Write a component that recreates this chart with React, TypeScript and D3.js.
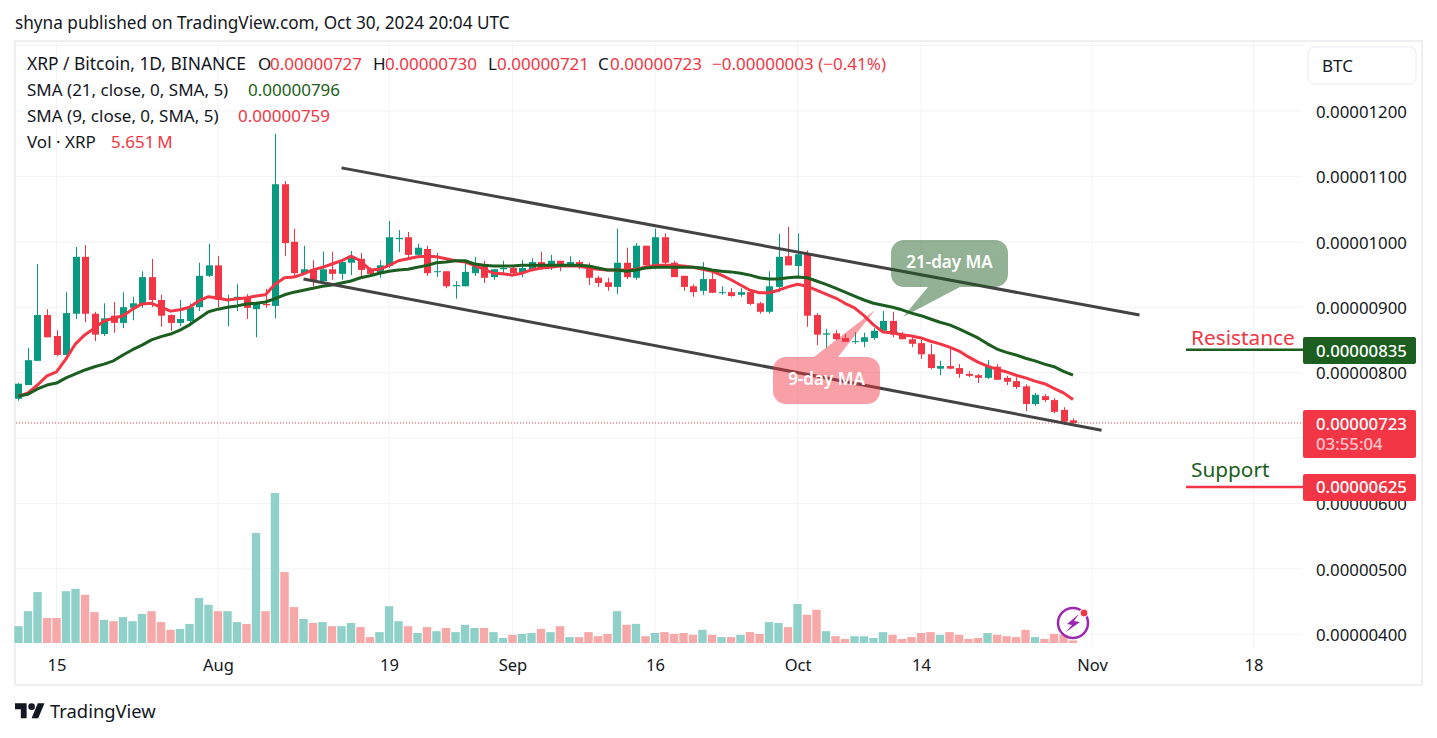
import React, { useEffect, useRef } from 'react';
import * as d3 from 'd3';

// prices in satoshi (1e-8 BTC), one entry per daily candle from 2024-07-11
const opens = [760,781,818,888,856,827,890,977,890,859,887,876,899,905,946,911,888,876,879,900,948,964,911,911,916,897,905,902,1088,1000,952,958,940,958,951,968,974,958,951,963,1004,1007,980,989,954,955,932,932,952,964,946,958,960,952,958,969,960,971,963,969,964,945,938,931,968,945,994,963,1007,968,948,932,925,943,922,923,919,923,906,893,931,978,963,981,888,858,860,853,847,847,853,864,879,859,851,845,828,806,810,807,798,796,792,809,792,787,779,752,764,758,743,727];
const highs = [784,838,966,897,865,923,992,995,893,906,908,923,916,955,974,919,889,911,906,968,997,978,919,935,920,908,928,1165,1093,1020,994,972,985,985,974,986,983,961,972,1032,1018,1015,997,994,983,955,940,969,977,971,958,971,964,972,975,985,980,971,978,972,968,948,945,1020,991,998,994,1020,1013,971,948,935,969,957,932,929,929,926,908,955,1012,1023,1013,987,891,867,865,859,862,861,868,894,893,862,854,850,844,818,838,813,802,798,819,813,795,793,782,769,767,761,747,730];
const lows = [757,781,818,854,825,827,882,877,848,856,861,868,880,899,900,870,864,871,871,894,946,900,871,894,882,854,899,883,978,945,952,932,940,942,942,949,946,949,945,960,984,975,978,948,946,929,913,932,948,937,942,952,948,946,955,957,957,955,963,958,934,931,925,920,943,942,963,958,960,946,925,916,919,922,919,916,916,903,890,890,923,964,945,870,842,838,850,847,844,839,850,864,854,851,839,821,805,796,805,792,793,784,790,789,781,775,741,749,755,738,720,721];
const closes = [783,819,888,854,827,891,977,890,858,883,876,900,906,946,911,887,876,882,900,948,964,911,913,916,899,908,903,1088,998,952,958,940,958,951,969,977,957,951,964,1007,1006,980,991,952,955,932,934,954,964,945,958,960,952,960,969,960,971,963,969,963,945,937,931,968,946,994,964,1007,968,946,931,923,943,922,923,917,923,905,893,932,977,964,981,887,858,860,851,847,848,854,864,879,858,851,844,828,807,810,806,798,795,792,809,789,786,778,752,766,758,740,725,723];
// volume in millions of XRP
const volumes = [37,70,112,55,55,114,119,106,68,51,48,57,48,64,70,46,29,31,42,99,84,70,70,46,42,242,70,330,156,79,53,44,46,37,37,44,35,13,24,81,48,37,22,35,26,33,24,40,33,33,24,11,18,20,22,31,24,37,13,13,24,15,20,70,40,42,15,22,24,20,22,18,29,18,13,13,18,24,20,46,44,35,86,62,73,26,15,9,15,15,11,24,18,9,13,22,24,18,24,18,9,11,22,18,15,13,29,13,9,20,18,5.651];
const sma21 = [764,767,775,781,784,792,798,804,809,813,818,827,835,842,850,855,859,865,873,883,893,897,900,902,905,906,908,913,919,923,926,929,932,934,937,940,945,948,952,955,957,958,961,964,968,969,971,971,966,964,963,963,963,964,964,964,964,964,964,964,963,960,957,957,955,957,960,961,961,961,961,961,960,957,955,954,952,949,945,943,943,945,946,945,940,935,929,923,917,911,906,903,900,896,891,887,882,877,873,867,860,853,844,836,831,827,822,818,813,809,802,796];
const sma9 = [764,769,781,795,801,821,844,858,868,879,883,887,897,905,906,900,894,896,900,910,916,914,911,913,914,917,919,935,945,946,951,957,961,966,971,978,971,957,958,964,971,974,977,978,977,974,971,969,964,958,952,951,949,952,957,960,961,963,963,963,960,958,957,957,957,958,961,964,964,964,963,961,958,955,949,942,934,926,922,922,926,931,935,932,926,920,914,906,899,887,873,862,861,858,856,853,848,844,839,833,824,816,810,805,801,796,792,787,783,776,769,759];

// the 700 label sits behind the last-price tag in the reference, so only the gridline is kept
const priceTicks = [400, 500, 600, 800, 900, 1000, 1100, 1200];
const gridPrices = [...priceTicks, 700, 1300];
const timeTicks = ['2024-07-15', '2024-08-01', '2024-08-19', '2024-09-01', '2024-09-16', '2024-10-01', '2024-10-14', '2024-11-01', '2024-11-18'];
const timeLabels = ['15', 'Aug', '19', 'Sep', '16', 'Oct', '14', 'Nov', '18'];
const upperChannel: [string, number][] = [['2024-08-14', 1113], ['2024-11-06', 888]];
const lowerChannel: [string, number][] = [['2024-08-10', 943], ['2024-11-02', 712]];
const resistance = 835;
const support = 625;
const lastPrice = 723;

const UP = '#089981';
const DOWN = '#f23645';
const DARK_GREEN = '#1b5e20';
const TEXT = '#131722';
const FONT = '"Noto Sans", sans-serif';

const fmt = (v: number) => (v / 1e8).toFixed(8);

const App: React.FC = () => {
  const svgRef = useRef<SVGSVGElement | null>(null);

  useEffect(() => {
    const svg = d3.select(svgRef.current);
    svg.selectAll('*').remove();

    const days = d3.utcDay.range(new Date(Date.UTC(2024, 6, 11)), new Date(Date.UTC(2024, 9, 31)));
    const x = d3.scaleUtc().domain([new Date(Date.UTC(2024, 6, 15)), new Date(Date.UTC(2024, 10, 1))]).range([56.5, 1092]);
    const y = d3.scaleLinear().domain([400, 1200]).range([634.2, 111]);
    const yVol = d3.scaleLinear().domain([0, 330]).range([643, 493]);
    const tickDates = timeTicks.map((d) => new Date(d));

    // frame
    svg.append('rect').attr('x', 15).attr('y', 41).attr('width', 1407).attr('height', 644)
      .attr('fill', '#fff').attr('stroke', '#eeeef3').attr('stroke-width', 2);

    // grid
    const grid = svg.append('g').attr('stroke', '#f1f3f6').attr('stroke-width', 1);
    grid.selectAll('line.h').data(gridPrices).join('line').attr('class', 'h')
      .attr('x1', 16).attr('x2', 1302).attr('y1', (d) => y(d)).attr('y2', (d) => y(d));
    grid.selectAll('line.v').data(tickDates).join('line').attr('class', 'v')
      .attr('x1', (d) => x(d)).attr('x2', (d) => x(d)).attr('y1', 42).attr('y2', 648);

    // volume
    svg.append('g').selectAll('rect').data(days).join('rect')
      .attr('x', (d) => x(d) - 4.2).attr('width', 8.4)
      .attr('y', (_, i) => yVol(volumes[i]))
      .attr('height', (_, i) => yVol(0) - yVol(volumes[i]))
      .attr('fill', (_, i) => (closes[i] >= opens[i] ? '#8fd1c8' : '#f7a9a9'));

    // candles
    const candles = svg.append('g');
    const colour = (i: number) => (closes[i] >= opens[i] ? UP : DOWN);
    candles.selectAll('line').data(days).join('line')
      .attr('x1', (d) => Math.round(x(d)) + 0.5).attr('x2', (d) => Math.round(x(d)) + 0.5)
      .attr('y1', (_, i) => y(highs[i])).attr('y2', (_, i) => y(lows[i]))
      .attr('stroke', (_, i) => colour(i));
    candles.selectAll('rect').data(days).join('rect')
      .attr('x', (d) => Math.round(x(d)) - 3).attr('width', 7)
      .attr('y', (_, i) => y(Math.max(opens[i], closes[i])))
      .attr('height', (_, i) => Math.max(1, Math.abs(y(opens[i]) - y(closes[i]))))
      .attr('fill', (_, i) => colour(i));

    // moving averages
    const line = d3.line<number>().x((_, i) => x(days[i])).y((d) => y(d));
    svg.append('path').attr('d', line(sma9)).attr('fill', 'none').attr('stroke', DOWN).attr('stroke-width', 3).attr('stroke-linejoin', 'round');
    svg.append('path').attr('d', line(sma21)).attr('fill', 'none').attr('stroke', DARK_GREEN).attr('stroke-width', 3).attr('stroke-linejoin', 'round');

    // last price
    svg.append('line').attr('x1', 16).attr('x2', 1302).attr('y1', y(lastPrice)).attr('y2', y(lastPrice))
      .attr('stroke', DOWN).attr('stroke-dasharray', '1 2');

    // channel
    [upperChannel, lowerChannel].forEach((c) => {
      svg.append('line')
        .attr('x1', x(new Date(c[0][0]))).attr('y1', y(c[0][1]))
        .attr('x2', x(new Date(c[1][0]))).attr('y2', y(c[1][1]))
        .attr('stroke', '#434343').attr('stroke-width', 3);
    });

    // callouts
    const bubble = (bx: number, by: number, w: number, tail: string, fill: string, label: string) => {
      const g = svg.append('g').attr('fill', fill).attr('opacity', 0.47);
      g.append('rect').attr('x', bx).attr('y', by).attr('width', w).attr('height', 47).attr('rx', 13);
      g.append('polygon').attr('points', tail);
      svg.append('text').attr('x', bx + w / 2).attr('y', by + 28).attr('text-anchor', 'middle')
        .attr('font-family', FONT).attr('font-size', 17).attr('font-weight', 600).attr('fill', '#fff').text(label);
    };
    bubble(891, 240, 117, '928,287 960,287 903,317', DARK_GREEN, '21-day MA');
    bubble(773, 357, 107, '814,357 838,357 875,310', DOWN, '9-day MA');

    // resistance / support marks
    svg.append('line').attr('x1', 1186).attr('x2', 1303).attr('y1', y(resistance)).attr('y2', y(resistance)).attr('stroke', DARK_GREEN).attr('stroke-width', 2.5);
    svg.append('line').attr('x1', 1186).attr('x2', 1303).attr('y1', y(support)).attr('y2', y(support)).attr('stroke', DOWN).attr('stroke-width', 2.5);
    svg.append('text').attr('x', 1191).attr('y', 345).attr('font-family', FONT).attr('font-size', 20.8).attr('fill', DOWN).text('Resistance');
    svg.append('text').attr('x', 1191).attr('y', 477).attr('font-family', FONT).attr('font-size', 20.8).attr('fill', DARK_GREEN).text('Support');

    // axes
    const priceAxis = d3.axisRight(y).tickValues(priceTicks).tickSize(0).tickPadding(0).tickFormat((d) => fmt(Number(d)));
    const gy = svg.append('g').attr('transform', 'translate(1316,1)').call(priceAxis);
    gy.select('.domain').remove();
    gy.selectAll('text').attr('font-family', FONT).attr('font-size', 16.8).attr('fill', TEXT);

    const timeAxis = d3.axisBottom(x).tickValues(tickDates).tickSize(0).tickPadding(0)
      .tickFormat((_, i) => timeLabels[i]);
    const gx = svg.append('g').attr('transform', 'translate(0,659)').call(timeAxis);
    gx.select('.domain').remove();
    gx.selectAll('text').attr('font-family', FONT).attr('font-size', 16.5).attr('fill', TEXT);

    // price tags
    const tag = (ty: number, h: number, fill: string) =>
      svg.append('rect').attr('x', 1303).attr('y', ty).attr('width', 113).attr('height', h).attr('rx', 2).attr('fill', fill);
    const tagText = (cy: number, txt: string, fill = '#fff') =>
      svg.append('text').attr('x', 1316).attr('y', cy).attr('dy', '0.35em').attr('font-family', FONT).attr('font-size', 16.8)
        .attr('font-weight', 500).attr('fill', fill).text(txt);
    tag(337, 27, DARK_GREEN);
    tagText(y(resistance) + 1, fmt(resistance));
    tag(410, 48, DOWN);
    tagText(y(lastPrice) + 1, fmt(lastPrice));
    tagText(444, '03:55:04', '#fcc4c9');
    tag(474, 27, DOWN);
    tagText(y(support), fmt(support));

    // BTC button
    svg.append('rect').attr('x', 1308).attr('y', 47).attr('width', 108).attr('height', 37).attr('rx', 6)
      .attr('fill', '#fff').attr('stroke', '#e9ebf0');
    svg.append('text').attr('x', 1322).attr('y', 66).attr('dy', '0.35em').attr('font-family', FONT).attr('font-size', 17).attr('fill', TEXT).text('BTC');

    // header + legend
    const label = (tx: number, ty: number, txt: string, fill = TEXT, size = 17) =>
      svg.append('text').attr('x', tx).attr('y', ty).attr('dy', '0.35em').attr('font-family', FONT).attr('font-size', size).attr('fill', fill).text(txt);
    label(15, 23, 'shyna published on TradingView.com, Oct 30, 2024 20:04 UTC', TEXT, 17.2);
    label(27, 64, 'XRP / Bitcoin, 1D, BINANCE', TEXT, 17.4);
    label(258, 64, 'O');
    label(270, 64, fmt(727), DOWN);
    label(373, 64, 'H');
    label(385, 64, fmt(730), DOWN);
    label(488, 64, 'L');
    label(497, 64, fmt(721), DOWN);
    label(598, 64, 'C');
    label(610, 64, fmt(723), DOWN);
    label(712, 64, '\u22120.00000003 (\u22120.41%)', DOWN);
    label(27, 90, 'SMA (21, close, 0, SMA, 5)');
    label(248, 90, fmt(796), DARK_GREEN);
    label(27, 116, 'SMA (9, close, 0, SMA, 5)');
    label(238, 116, fmt(759), DOWN);
    label(27, 142, 'Vol \u00b7 XRP');
    label(111, 142, '5.651\u202fM', DOWN);

    // lightning badge
    const badge = svg.append('g');
    badge.append('circle').attr('cx', 1073).attr('cy', 623).attr('r', 15).attr('fill', 'none').attr('stroke', '#9c27b0').attr('stroke-width', 2.5);
    badge.append('polygon').attr('points', '1079,614 1067,624 1072,625 1066,632 1080,622 1074,621').attr('fill', '#9c27b0');
    badge.append('circle').attr('cx', 1084).attr('cy', 613).attr('r', 4).attr('fill', DOWN).attr('stroke', '#fff');

    // logo
    const logo = svg.append('g').attr('transform', 'translate(15,700) scale(0.83)').attr('fill', TEXT);
    logo.append('path').attr('d', 'M14 22H7V11H0V4h14v18zM28 22h-8l7.5-18h8L28 22z');
    logo.append('circle').attr('cx', 20).attr('cy', 8).attr('r', 4);
    label(50, 712, 'TradingView', TEXT, 18.4);
  }, []);

  return <svg ref={svgRef} width={1437} height={738} style={{ position: 'absolute', left: 0, top: 0, background: '#fff' }} />;
};

export default App;
